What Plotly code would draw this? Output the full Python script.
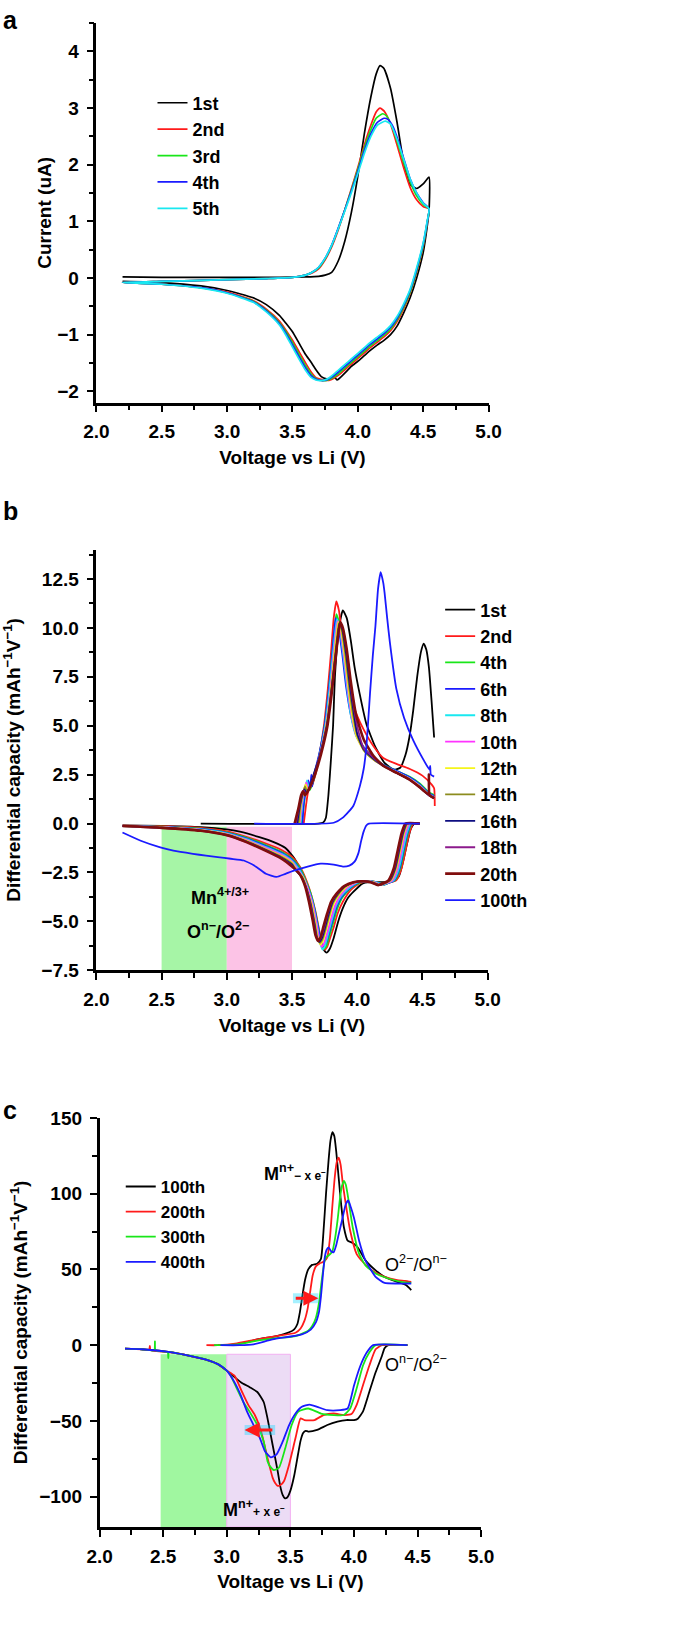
import plotly.graph_objects as go

W, H = 685, 1638
FONT = "Liberation Sans Narrow, Arial Narrow, Liberation Sans, Arial, sans-serif"

# ===================== DATA =====================
# ---- panel a : cyclic voltammetry (V, uA) ----
a_names = ["1st", "2nd", "3rd", "4th", "5th"]
a_colors = ["#000000", "#ff1a1a", "#19e619", "#1a1aff", "#19e8f0"]

a1_v = [2.20, 2.50, 3.00, 3.40, 3.60, 3.70, 3.75, 3.80, 3.85, 3.90, 3.95, 4.00, 4.05, 4.10, 4.14, 4.17, 4.20, 4.25, 4.30, 4.35, 4.40, 4.45, 4.50, 4.545,
        4.545, 4.53, 4.50, 4.45, 4.40, 4.35, 4.30, 4.25, 4.20, 4.15, 4.10, 4.05, 4.00, 3.95, 3.90, 3.86, 3.84, 3.825, 3.80, 3.76, 3.72, 3.68, 3.64, 3.60, 3.55, 3.50, 3.45, 3.40, 3.30, 3.20, 3.00, 2.80, 2.50, 2.20]
a1_i = [0.02, 0.01, 0.01, 0.01, 0.02, 0.03, 0.05, 0.10, 0.30, 0.65, 1.15, 1.80, 2.55, 3.20, 3.60, 3.75, 3.70, 3.35, 2.75, 2.05, 1.65, 1.58, 1.66, 1.78,
        1.20, 0.90, 0.45, 0.00, -0.35, -0.62, -0.85, -1.00, -1.10, -1.18, -1.27, -1.37, -1.47, -1.56, -1.68, -1.77, -1.80, -1.76, -1.77, -1.78, -1.74, -1.62, -1.48, -1.35, -1.15, -0.95, -0.80, -0.66, -0.47, -0.35, -0.22, -0.14, -0.08, -0.06]

a2_v = [2.20, 2.50, 3.00, 3.30, 3.50, 3.60, 3.65, 3.70, 3.75, 3.80, 3.85, 3.90, 3.95, 4.00, 4.05, 4.10, 4.14, 4.17, 4.20, 4.25, 4.30, 4.35, 4.40, 4.45, 4.50, 4.545,
        4.53, 4.50, 4.45, 4.40, 4.35, 4.30, 4.25, 4.20, 4.15, 4.10, 4.05, 4.00, 3.95, 3.90, 3.85, 3.80, 3.76, 3.72, 3.68, 3.64, 3.60, 3.55, 3.50, 3.45, 3.40, 3.30, 3.20, 3.00, 2.80, 2.50, 2.20]
a2_i = [-0.08, -0.06, -0.03, -0.01, 0.01, 0.05, 0.09, 0.16, 0.32, 0.55, 0.85, 1.20, 1.57, 1.95, 2.35, 2.70, 2.93, 3.00, 2.95, 2.72, 2.35, 1.95, 1.60, 1.38, 1.26, 1.22,
        0.97, 0.55, 0.10, -0.27, -0.55, -0.77, -0.93, -1.04, -1.13, -1.22, -1.32, -1.42, -1.52, -1.62, -1.72, -1.79, -1.81, -1.79, -1.76, -1.65, -1.50, -1.30, -1.10, -0.92, -0.76, -0.55, -0.40, -0.25, -0.17, -0.11, -0.08]

a3_v = [2.20, 2.50, 3.00, 3.30, 3.50, 3.60, 3.65, 3.70, 3.75, 3.80, 3.85, 3.90, 3.95, 4.00, 4.05, 4.10, 4.14, 4.19, 4.22, 4.26, 4.30, 4.35, 4.40, 4.45, 4.50, 4.545,
        4.53, 4.50, 4.45, 4.40, 4.35, 4.30, 4.25, 4.20, 4.15, 4.10, 4.05, 4.00, 3.95, 3.90, 3.85, 3.80, 3.76, 3.72, 3.68, 3.64, 3.60, 3.55, 3.50, 3.45, 3.40, 3.30, 3.20, 3.00, 2.80, 2.50, 2.20]
a3_i = [-0.08, -0.06, -0.03, -0.01, 0.01, 0.05, 0.10, 0.18, 0.34, 0.57, 0.87, 1.20, 1.55, 1.92, 2.30, 2.62, 2.82, 2.90, 2.86, 2.68, 2.42, 2.05, 1.70, 1.45, 1.30, 1.22,
        0.97, 0.57, 0.12, -0.25, -0.52, -0.74, -0.90, -1.01, -1.10, -1.19, -1.29, -1.39, -1.49, -1.59, -1.69, -1.77, -1.81, -1.81, -1.78, -1.69, -1.55, -1.35, -1.14, -0.95, -0.79, -0.57, -0.41, -0.26, -0.17, -0.11, -0.08]

a4_v = [2.20, 2.50, 3.00, 3.30, 3.50, 3.60, 3.65, 3.70, 3.75, 3.80, 3.85, 3.90, 3.95, 4.00, 4.05, 4.10, 4.15, 4.20, 4.23, 4.27, 4.31, 4.35, 4.40, 4.45, 4.50, 4.545,
        4.53, 4.50, 4.45, 4.40, 4.35, 4.30, 4.25, 4.20, 4.15, 4.10, 4.05, 4.00, 3.95, 3.90, 3.85, 3.80, 3.76, 3.72, 3.68, 3.64, 3.60, 3.55, 3.50, 3.45, 3.40, 3.30, 3.20, 3.00, 2.80, 2.50, 2.20]
a4_i = [-0.08, -0.06, -0.03, -0.01, 0.01, 0.05, 0.10, 0.19, 0.35, 0.58, 0.88, 1.20, 1.53, 1.88, 2.25, 2.55, 2.75, 2.82, 2.80, 2.67, 2.42, 2.12, 1.75, 1.50, 1.33, 1.22,
        0.98, 0.60, 0.15, -0.22, -0.49, -0.71, -0.87, -0.98, -1.07, -1.16, -1.26, -1.36, -1.46, -1.56, -1.66, -1.75, -1.80, -1.81, -1.79, -1.72, -1.59, -1.39, -1.18, -0.98, -0.81, -0.58, -0.42, -0.26, -0.17, -0.11, -0.08]

a5_v = [2.20, 2.50, 3.00, 3.30, 3.50, 3.60, 3.65, 3.70, 3.75, 3.80, 3.85, 3.90, 3.95, 4.00, 4.05, 4.10, 4.15, 4.21, 4.25, 4.30, 4.35, 4.40, 4.45, 4.50, 4.545,
        4.53, 4.50, 4.45, 4.40, 4.35, 4.30, 4.25, 4.20, 4.15, 4.10, 4.05, 4.00, 3.95, 3.90, 3.85, 3.80, 3.76, 3.72, 3.68, 3.64, 3.60, 3.55, 3.50, 3.45, 3.40, 3.30, 3.20, 3.00, 2.80, 2.50, 2.20]
a5_i = [-0.08, -0.06, -0.03, -0.01, 0.01, 0.05, 0.10, 0.19, 0.35, 0.58, 0.87, 1.18, 1.50, 1.84, 2.20, 2.50, 2.70, 2.77, 2.72, 2.45, 2.10, 1.75, 1.50, 1.32, 1.22,
        1.00, 0.62, 0.18, -0.20, -0.46, -0.68, -0.84, -0.95, -1.04, -1.13, -1.23, -1.33, -1.43, -1.53, -1.63, -1.73, -1.79, -1.81, -1.80, -1.75, -1.63, -1.43, -1.22, -1.01, -0.83, -0.60, -0.43, -0.27, -0.18, -0.11, -0.08]

# ---- panel b : differential capacity, cycles 1-100 ----
b_names = ["1st", "2nd", "4th", "6th", "8th", "10th", "12th", "14th", "16th", "18th", "20th", "100th"]
b_colors = ["#000000", "#ff1a1a", "#19e619", "#1a1aff", "#19e8f0", "#ff33ff", "#f5f51a", "#8c8c1e",
            "#0d0d80", "#8c1a8c", "#800d0d", "#1a1aff"]

b01_cv = [2.80, 3.70, 3.74, 3.76, 3.78, 3.80, 3.815, 3.83, 3.86, 3.89, 3.92, 3.95, 3.98, 4.02, 4.07, 4.14, 4.21, 4.28, 4.33, 4.37, 4.40, 4.43, 4.46, 4.49, 4.51, 4.53, 4.55, 4.57, 4.59]
b01_cy = [0, 0, 0.05, 0.3, 1.5, 3.4, 5.0, 7.6, 10.0, 10.9, 10.5, 9.4, 8.0, 6.6, 5.1, 3.9, 3.1, 2.75, 2.85, 3.5, 4.4, 5.8, 7.5, 8.8, 9.2, 8.9, 8.0, 6.3, 4.4]
b01_dv = [4.48, 4.44, 4.41, 4.38, 4.35, 4.32, 4.28, 4.20, 4.10, 4.04, 3.97, 3.93, 3.89, 3.855, 3.82, 3.79, 3.765, 3.74, 3.71, 3.68, 3.65, 3.61, 3.57, 3.52, 3.45, 3.36, 3.25, 3.10, 3.00, 2.80, 2.50, 2.20]
b01_dy = [0, 0, -0.3, -1.1, -2.0, -2.7, -2.95, -3.0, -3.0, -3.07, -3.5, -3.8, -4.33, -5.0, -5.85, -6.4, -6.6, -6.4, -5.85, -5.0, -4.2, -3.3, -2.5, -1.8, -1.25, -0.95, -0.7, -0.42, -0.3, -0.18, -0.12, -0.1]

b02_cv = [3.59, 3.605, 3.62, 3.635, 3.65, 3.68, 3.71, 3.745, 3.775, 3.80, 3.82, 3.84, 3.86, 3.89, 3.92, 3.96, 4.00, 4.05, 4.12, 4.20, 4.30, 4.40, 4.50, 4.57, 4.59, 4.595]
b02_cy = [0, 0.8, 1.5, 1.9, 1.9, 2.5, 3.5, 5.0, 6.9, 8.8, 10.5, 11.35, 10.9, 9.2, 7.6, 6.3, 5.5, 4.8, 4.0, 3.35, 3.05, 2.8, 2.45, 2.0, 1.8, 0.9]
b02_dv = [4.48, 4.43, 4.40, 4.37, 4.34, 4.30, 4.26, 4.21, 4.15, 4.09, 4.02, 3.95, 3.89, 3.85, 3.82, 3.79, 3.77, 3.75, 3.73, 3.71, 3.68,
          3.65, 3.61, 3.56, 3.50, 3.42, 3.30, 3.15, 3.00, 2.80, 2.50, 2.20]
b02_dy = [0, 0, -0.5, -1.4, -2.3, -2.9, -3.0, -3.1, -3.0, -2.95, -3.05, -3.4, -4.0, -4.6, -5.3, -5.9, -6.3, -6.45, -6.2, -5.5, -4.5,
          -3.7, -2.9, -2.2, -1.7, -1.35, -1.02, -0.68, -0.4, -0.22, -0.14, -0.11]

b04_cv = [3.575, 3.59, 3.605, 3.62, 3.635, 3.655, 3.68, 3.715, 3.75, 3.78, 3.805, 3.825, 3.84, 3.86, 3.89, 3.92, 3.95, 3.99, 4.05, 4.12, 4.20, 4.30, 4.40, 4.48, 4.55, 4.59]
b04_cy = [0, 0.9, 1.7, 2.0, 1.7, 2.0, 2.6, 3.7, 5.0, 6.7, 8.4, 9.8, 10.7, 10.3, 8.9, 7.1, 5.7, 4.6, 3.9, 3.4, 3.0, 2.7, 2.4, 2.05, 1.6, 1.45]
b04_dv = [4.48, 4.42, 4.39, 4.36, 4.33, 4.29, 4.25, 4.21, 4.15, 4.09, 4.02, 3.95, 3.885, 3.845, 3.815, 3.785, 3.765, 3.745, 3.725, 3.705, 3.675,
          3.645, 3.605, 3.56, 3.50, 3.42, 3.30, 3.15, 3.00, 2.80, 2.50, 2.20]
b04_dy = [0, 0, -0.5, -1.4, -2.3, -2.9, -3.0, -3.12, -3.0, -2.95, -3.02, -3.3, -3.8, -4.4, -5.1, -5.8, -6.25, -6.4, -6.1, -5.4, -4.4,
          -3.6, -2.9, -2.25, -1.8, -1.45, -1.1, -0.72, -0.45, -0.26, -0.16, -0.12]

b06_cv = [3.58, 3.59, 3.61, 3.625, 3.64, 3.648, 3.655, 3.67, 3.71, 3.75, 3.78, 3.805, 3.82, 3.835, 3.855, 3.885, 3.915, 3.95, 3.99, 4.05, 4.12, 4.20, 4.30, 4.40, 4.48, 4.55, 4.59]
b06_cy = [0, 1.0, 1.8, 2.2, 1.8, 2.5, 1.9, 2.5, 3.6, 5.0, 6.7, 8.4, 9.6, 10.5, 10.1, 8.7, 7.0, 5.6, 4.6, 3.9, 3.4, 3.0, 2.7, 2.38, 2.0, 1.55, 1.4]
b06_dv = [4.48, 4.415, 4.385, 4.355, 4.325, 4.285, 4.245, 4.205, 4.145, 4.085, 4.015, 3.945, 3.88, 3.84, 3.81, 3.78, 3.76, 3.74, 3.72, 3.70, 3.67,
          3.64, 3.60, 3.555, 3.50, 3.42, 3.30, 3.15, 3.00, 2.80, 2.50, 2.20]
b06_dy = [0, 0, -0.5, -1.4, -2.3, -2.9, -3.02, -3.12, -3.0, -2.95, -3.0, -3.3, -3.75, -4.3, -5.0, -5.7, -6.15, -6.3, -6.0, -5.3, -4.3,
          -3.6, -2.9, -2.3, -1.85, -1.5, -1.15, -0.76, -0.48, -0.28, -0.17, -0.12]

b08_cv = [3.565, 3.58, 3.60, 3.615, 3.63, 3.65, 3.675, 3.715, 3.755, 3.785, 3.81, 3.83, 3.845, 3.865, 3.895, 3.925, 3.955, 3.99, 4.05, 4.12, 4.20, 4.30, 4.40, 4.48, 4.55, 4.59]
b08_cy = [0, 1.0, 1.8, 2.2, 1.75, 2.0, 2.5, 3.6, 5.0, 6.7, 8.4, 9.7, 10.45, 10.0, 8.5, 6.8, 5.4, 4.5, 3.85, 3.35, 2.95, 2.65, 2.32, 1.95, 1.5, 1.35]
b08_dv = [4.48, 4.41, 4.38, 4.35, 4.32, 4.28, 4.24, 4.20, 4.14, 4.08, 4.01, 3.94, 3.875, 3.835, 3.805, 3.775, 3.755, 3.735, 3.715, 3.695, 3.665,
          3.635, 3.595, 3.55, 3.50, 3.42, 3.30, 3.15, 3.00, 2.80, 2.50, 2.20]
b08_dy = [0, 0, -0.5, -1.4, -2.3, -2.9, -3.02, -3.12, -3.0, -2.95, -3.0, -3.28, -3.72, -4.25, -4.95, -5.7, -6.2, -6.45, -6.1, -5.3, -4.25,
          -3.55, -2.85, -2.3, -1.9, -1.55, -1.2, -0.8, -0.5, -0.3, -0.18, -0.12]

b10_cv = [3.56, 3.575, 3.595, 3.61, 3.625, 3.645, 3.67, 3.715, 3.76, 3.79, 3.815, 3.835, 3.85, 3.87, 3.90, 3.93, 3.96, 3.995, 4.05, 4.12, 4.20, 4.30, 4.40, 4.48, 4.55, 4.59]
b10_cy = [0, 1.0, 1.75, 2.1, 1.7, 1.95, 2.45, 3.55, 5.0, 6.6, 8.3, 9.6, 10.35, 9.95, 8.5, 6.8, 5.4, 4.45, 3.8, 3.3, 2.95, 2.63, 2.3, 1.92, 1.48, 1.32]
b10_dv = [4.48, 4.40, 4.37, 4.34, 4.31, 4.27, 4.23, 4.19, 4.13, 4.07, 4.00, 3.93, 3.87, 3.83, 3.80, 3.77, 3.75, 3.73, 3.71, 3.69, 3.66,
          3.63, 3.59, 3.545, 3.50, 3.42, 3.30, 3.15, 3.00, 2.80, 2.50, 2.20]
b10_dy = [0, 0, -0.5, -1.4, -2.3, -2.9, -3.03, -3.13, -3.0, -2.95, -3.0, -3.25, -3.68, -4.2, -4.85, -5.6, -6.05, -6.3, -6.0, -5.2, -4.2,
          -3.5, -2.8, -2.35, -1.95, -1.6, -1.25, -0.83, -0.53, -0.32, -0.19, -0.12]

b12_cv = [3.555, 3.57, 3.59, 3.605, 3.62, 3.64, 3.665, 3.715, 3.762, 3.792, 3.818, 3.84, 3.855, 3.875, 3.905, 3.935, 3.965, 3.995, 4.05, 4.12, 4.20, 4.30, 4.40, 4.48, 4.55, 4.59]
b12_cy = [0, 1.0, 1.7, 2.0, 1.65, 1.9, 2.4, 3.5, 5.0, 6.5, 8.2, 9.6, 10.3, 9.95, 8.5, 6.8, 5.4, 4.45, 3.75, 3.3, 2.95, 2.62, 2.28, 1.9, 1.47, 1.3]
b12_dv = [4.48, 4.39, 4.36, 4.33, 4.30, 4.26, 4.22, 4.18, 4.12, 4.06, 3.99, 3.92, 3.86, 3.82, 3.79, 3.76, 3.74, 3.72, 3.70, 3.68, 3.65,
          3.62, 3.585, 3.54, 3.50, 3.42, 3.30, 3.15, 3.00, 2.80, 2.50, 2.20]
b12_dy = [0, 0, -0.5, -1.4, -2.3, -2.9, -3.04, -3.14, -3.0, -2.95, -3.0, -3.22, -3.65, -4.1, -4.75, -5.5, -5.95, -6.2, -5.9, -5.1, -4.1,
          -3.45, -2.75, -2.4, -2.0, -1.65, -1.3, -0.87, -0.55, -0.34, -0.2, -0.13]

b14_cv = [3.55, 3.565, 3.585, 3.60, 3.615, 3.635, 3.66, 3.71, 3.765, 3.795, 3.822, 3.845, 3.86, 3.88, 3.91, 3.94, 3.97, 4.00, 4.05, 4.12, 4.20, 4.30, 4.40, 4.48, 4.55, 4.59]
b14_cy = [0, 0.9, 1.55, 1.9, 1.6, 1.85, 2.35, 3.4, 5.0, 6.5, 8.1, 9.5, 10.25, 9.95, 8.6, 6.9, 5.5, 4.5, 3.75, 3.3, 2.95, 2.6, 2.25, 1.88, 1.46, 1.3]
b14_dv = [4.48, 4.385, 4.355, 4.325, 4.295, 4.255, 4.215, 4.175, 4.115, 4.055, 3.985, 3.915, 3.855, 3.815, 3.785, 3.755, 3.735, 3.715, 3.695, 3.675, 3.645,
          3.615, 3.58, 3.535, 3.50, 3.42, 3.30, 3.15, 3.00, 2.80, 2.50, 2.20]
b14_dy = [0, 0, -0.5, -1.4, -2.3, -2.9, -3.04, -3.14, -3.0, -2.95, -3.0, -3.2, -3.62, -4.05, -4.7, -5.45, -5.9, -6.1, -5.85, -5.1, -4.1,
          -3.4, -2.75, -2.42, -2.05, -1.7, -1.33, -0.9, -0.57, -0.35, -0.21, -0.13]

b16_cv = [3.54, 3.56, 3.58, 3.595, 3.61, 3.63, 3.655, 3.705, 3.767, 3.797, 3.825, 3.85, 3.865, 3.885, 3.915, 3.945, 3.975, 4.00, 4.05, 4.12, 4.20, 4.30, 4.40, 4.48, 4.55, 4.59]
b16_cy = [0, 0.9, 1.5, 1.75, 1.55, 1.8, 2.3, 3.3, 5.0, 6.5, 8.1, 9.5, 10.25, 9.95, 8.7, 7.0, 5.6, 4.6, 3.8, 3.35, 2.95, 2.6, 2.25, 1.85, 1.45, 1.3]
b16_dv = [4.48, 4.38, 4.35, 4.32, 4.29, 4.25, 4.21, 4.17, 4.11, 4.05, 3.98, 3.91, 3.85, 3.81, 3.78, 3.75, 3.73, 3.71, 3.69, 3.67, 3.64,
          3.61, 3.57, 3.53, 3.50, 3.42, 3.30, 3.15, 3.00, 2.80, 2.50, 2.20]
b16_dy = [0, 0, -0.5, -1.4, -2.3, -2.9, -3.05, -3.15, -3.0, -2.95, -3.0, -3.2, -3.6, -4.02, -4.65, -5.4, -5.85, -6.05, -5.8, -5.05, -4.05,
          -3.3, -2.7, -2.4, -2.1, -1.75, -1.36, -0.92, -0.58, -0.36, -0.21, -0.13]

b18_cv = [3.53, 3.555, 3.575, 3.59, 3.605, 3.63, 3.66, 3.70, 3.77, 3.80, 3.83, 3.855, 3.87, 3.89, 3.92, 3.95, 3.98, 4.01, 4.05, 4.12, 4.20, 4.30, 4.40, 4.48, 4.55, 4.59]
b18_cy = [0, 0.9, 1.5, 1.7, 1.5, 1.75, 2.25, 3.1, 5.0, 6.5, 8.2, 9.6, 10.25, 9.95, 8.8, 7.1, 5.7, 4.7, 3.85, 3.4, 2.95, 2.6, 2.25, 1.85, 1.45, 1.3]
b18_dv = [4.48, 4.375, 4.345, 4.315, 4.285, 4.245, 4.205, 4.165, 4.105, 4.045, 3.975, 3.905, 3.845, 3.805, 3.775, 3.745, 3.725, 3.705, 3.685, 3.665, 3.635,
          3.605, 3.565, 3.505, 3.42, 3.30, 3.15, 3.00, 2.80, 2.50, 2.20]
b18_dy = [0, 0, -0.5, -1.4, -2.3, -2.9, -3.05, -3.15, -3.0, -2.95, -3.0, -3.2, -3.6, -4.0, -4.6, -5.35, -5.8, -6.0, -5.75, -5.0, -4.0,
          -3.25, -2.65, -2.2, -1.78, -1.38, -0.94, -0.6, -0.37, -0.22, -0.13]

b20_cv = [3.52, 3.55, 3.57, 3.585, 3.60, 3.63, 3.66, 3.70, 3.74, 3.772, 3.80, 3.83, 3.85, 3.87, 3.89, 3.92, 3.95, 3.99, 4.05, 4.12, 4.20, 4.30, 4.40, 4.48, 4.545, 4.55, 4.555, 4.59]
b20_cy = [0, 0.8, 1.45, 1.65, 1.45, 1.75, 2.2, 3.0, 4.0, 5.0, 6.4, 8.2, 9.4, 10.3, 10.0, 8.9, 7.3, 5.6, 4.3, 3.5, 2.95, 2.6, 2.25, 1.85, 1.5, 2.5, 1.45, 1.3]
b20_dv = [4.48, 4.37, 4.34, 4.31, 4.28, 4.24, 4.20, 4.16, 4.10, 4.04, 3.97, 3.90, 3.84, 3.80, 3.77, 3.74, 3.72, 3.70, 3.68, 3.66, 3.63,
          3.60, 3.56, 3.50, 3.42, 3.30, 3.15, 3.00, 2.80, 2.50, 2.20]
b20_dy = [0, 0, -0.5, -1.4, -2.3, -2.9, -3.05, -3.15, -3.0, -2.95, -3.0, -3.2, -3.6, -4.0, -4.6, -5.3, -5.8, -6.0, -5.7, -5.0, -4.0,
          -3.2, -2.6, -2.2, -1.8, -1.4, -0.95, -0.6, -0.37, -0.22, -0.13]

b100_cv = [3.21, 3.82, 3.89, 3.97, 4.02, 4.05, 4.07, 4.10, 4.12, 4.14, 4.16, 4.18, 4.20, 4.21, 4.23, 4.25, 4.30, 4.36, 4.43, 4.51, 4.555, 4.56, 4.565, 4.59]
b100_cy = [0, 0.04, 0.3, 0.9, 1.9, 2.8, 3.9, 6.8, 8.6, 10.1, 12.0, 12.85, 12.3, 11.8, 10.5, 9.3, 6.9, 5.4, 4.25, 3.24, 2.75, 2.95, 2.5, 2.4]
b100_dv = [4.48, 4.09, 4.07, 4.05, 4.03, 4.01, 3.98, 3.94, 3.89, 3.82, 3.72, 3.62, 3.52, 3.45, 3.38, 3.30, 3.23, 3.13, 3.03, 2.93, 2.84, 2.74, 2.59, 2.49, 2.34, 2.20]
b100_dy = [0, 0, -0.1, -0.4, -0.9, -1.5, -1.95, -2.15, -2.2, -2.1, -2.05, -2.2, -2.4, -2.57, -2.73, -2.57, -2.23, -1.89, -1.8, -1.72, -1.64, -1.55, -1.39, -1.22, -0.88, -0.46]

# ---- panel c : differential capacity, cycles 100-400 ----
c_names = ["100th", "200th", "300th", "400th"]
c_colors = ["#000000", "#ff1a1a", "#19e619", "#1a1aff"]

c100_cv = [2.93, 3.08, 3.24, 3.39, 3.49, 3.53, 3.555, 3.575, 3.595, 3.615, 3.64, 3.67, 3.71, 3.74, 3.76, 3.78, 3.80, 3.815, 3.83, 3.845, 3.86, 3.88, 3.90, 3.92, 3.95, 3.99, 4.03, 4.09, 4.17, 4.24, 4.34, 4.41, 4.45]
c100_cy = [0, 0.6, 3.8, 6.0, 8.5, 10.5, 14, 22, 33, 43, 50, 53, 53.8, 57, 75, 100, 122, 135, 140.6, 138, 128, 110, 92, 78, 69, 67.5, 64.5, 56, 49.4, 45.1, 41.8, 39.6, 36.4]
c100_dv = [4.42, 4.27, 4.24, 4.22, 4.17, 4.12, 4.07, 4.03, 4.00, 3.94, 3.87, 3.79, 3.71, 3.64, 3.62, 3.60, 3.58, 3.56, 3.53, 3.50, 3.475, 3.455, 3.44, 3.42, 3.40, 3.36, 3.32, 3.29, 3.24, 3.18, 3.11, 3.00, 2.93, 2.83, 2.58, 2.33, 2.20]
c100_dy = [0, 0, -2, -7, -17.9, -30.9, -43.9, -48.5, -49.4, -49.4, -50.5, -52.7, -55.9, -57, -56.5, -58, -63, -72, -86, -96, -100.5, -101, -99, -93, -83.1, -65.7, -48.3, -37.5, -30.9, -27.7, -24.4, -16.8, -12.5, -9.3, -4.9, -2.7, -2.3]

c200_cv = [2.84, 2.93, 3.08, 3.24, 3.39, 3.54, 3.58, 3.61, 3.635, 3.655, 3.675, 3.70, 3.73, 3.76, 3.79, 3.81, 3.83, 3.85, 3.865, 3.88, 3.895, 3.91, 3.93, 3.97, 4.02, 4.07, 4.14, 4.24, 4.34, 4.40, 4.45]
c200_cy = [0, 0, 1.2, 3.8, 6.0, 8.2, 11, 16, 24, 35, 46, 52, 54, 55, 58, 70, 92, 112, 121, 123.7, 119, 108, 96, 75.5, 60.3, 54.9, 49.4, 45.1, 42.9, 42.5, 41.8]
c200_dv = [4.42, 4.22, 4.17, 4.12, 4.07, 4.02, 3.98, 3.92, 3.84, 3.76, 3.69, 3.61, 3.58, 3.54, 3.49, 3.45, 3.42, 3.40, 3.38, 3.36, 3.32, 3.27, 3.22, 3.17, 3.12, 3.06, 3.00, 2.93, 2.83, 2.58, 2.40, 2.395, 2.39, 2.33, 2.20]
c200_dy = [0, 0, -2.7, -13.6, -26.6, -39.6, -45.5, -46.1, -45.1, -46.1, -49.4, -49.4, -48.3, -61.3, -78.7, -89.6, -92.5, -92.8, -91, -87.4, -74.4, -57, -46.1, -39.6, -30.9, -20.1, -16.8, -12.5, -9.3, -4.9, -3.2, -0.5, -3.1, -2.7, -2.3]

c300_cv = [2.90, 3.08, 3.24, 3.39, 3.54, 3.64, 3.67, 3.70, 3.725, 3.745, 3.765, 3.78, 3.80, 3.83, 3.85, 3.87, 3.89, 3.905, 3.92, 3.935, 3.95, 3.99, 4.04, 4.09, 4.17, 4.27, 4.37, 4.45]
c300_cy = [0, 0.6, 3.0, 4.6, 6.0, 9.5, 12.5, 18, 28, 42, 54, 58.1, 59.2, 62, 70, 82, 97, 105, 108.5, 106, 99.4, 77.7, 60.3, 52.7, 47.3, 44, 41.8, 41.1]
c300_dv = [4.42, 4.17, 4.12, 4.07, 4.02, 3.97, 3.92, 3.84, 3.74, 3.64, 3.56, 3.51, 3.46, 3.41, 3.37, 3.34, 3.32, 3.29, 3.24, 3.18, 3.13, 3.08, 3.03, 3.00, 2.93, 2.83, 2.58, 2.545, 2.54, 2.535, 2.44, 2.435, 2.43, 2.33, 2.20]
c300_dy = [0, 0, -4.9, -13.6, -28.8, -41.8, -46.1, -46.1, -45.1, -41.8, -44, -52.7, -67.9, -80.9, -82.4, -80, -76.5, -63.5, -52.7, -44, -37.5, -28.8, -20.1, -16.8, -12.5, -9.3, -4.9, -4.6, -8.5, -4.5, -3.5, 2.5, -3.4, -2.7, -2.3]

c400_cv = [2.95, 3.10, 3.21, 3.36, 3.59, 3.66, 3.70, 3.725, 3.74, 3.755, 3.77, 3.785, 3.80, 3.82, 3.84, 3.86, 3.88, 3.91, 3.935, 3.955, 3.975, 4.00, 4.04, 4.09, 4.17, 4.24, 4.34, 4.45]
c400_cy = [0, 0, 0.6, 3.8, 7.1, 10.3, 15, 22, 32, 46, 58, 63, 64.6, 62, 61.4, 66, 73.3, 84, 93, 95.5, 91, 84, 69, 55.9, 45.1, 41.1, 40.7, 40.7]
c400_dv = [4.42, 4.15, 4.10, 4.05, 4.00, 3.95, 3.89, 3.79, 3.71, 3.65, 3.59, 3.54, 3.49, 3.44, 3.39, 3.345, 3.30, 3.26, 3.21, 3.16, 3.11, 3.06, 3.00, 2.93, 2.83, 2.58, 2.33, 2.20]
c400_dy = [0, 0, -4.9, -13.6, -26.6, -41.8, -42.9, -42.9, -40.7, -39.2, -40.7, -45.1, -52.7, -63.5, -72.2, -74, -70, -61.3, -52.7, -44, -33.1, -24.4, -16.8, -12.5, -9.3, -4.9, -2.7, -2.3]

# ===================== FIGURE =====================
fig = go.Figure()


def add_trace(xa, ya, legend, name, color, xs, ys, width):
    assert len(xs) == len(ys), (name, len(xs), len(ys))
    fig.add_trace(go.Scatter(
        x=xs, y=ys, mode="lines", name=name, legend=legend,
        xaxis=xa, yaxis=ya, hoverinfo="skip", connectgaps=False,
        line=dict(color=color, width=width, shape="spline", smoothing=0.5)))


def branch(cv, cy, dv, dy):
    assert len(cv) == len(cy) and len(dv) == len(dy)
    return list(cv) + [None] + list(dv), list(cy) + [None] + list(dy)


# panel a
for nm, col, xs, ys in zip(a_names, a_colors, [a1_v, a2_v, a3_v, a4_v, a5_v], [a1_i, a2_i, a3_i, a4_i, a5_i]):
    add_trace("x", "y", "legend", nm, col, xs, ys, 1.7)

# panel b
b_data = [(b01_cv, b01_cy, b01_dv, b01_dy), (b02_cv, b02_cy, b02_dv, b02_dy), (b04_cv, b04_cy, b04_dv, b04_dy),
          (b06_cv, b06_cy, b06_dv, b06_dy), (b08_cv, b08_cy, b08_dv, b08_dy), (b10_cv, b10_cy, b10_dv, b10_dy),
          (b12_cv, b12_cy, b12_dv, b12_dy), (b14_cv, b14_cy, b14_dv, b14_dy), (b16_cv, b16_cy, b16_dv, b16_dy),
          (b18_cv, b18_cy, b18_dv, b18_dy), (b20_cv, b20_cy, b20_dv, b20_dy), (b100_cv, b100_cy, b100_dv, b100_dy)]
for nm, col, d in zip(b_names, b_colors, b_data):
    xs, ys = branch(*d)
    add_trace("x2", "y2", "legend2", nm, col, xs, ys, 2.6 if nm == "20th" else 1.8)

# panel c
c_data = [(c100_cv, c100_cy, c100_dv, c100_dy), (c200_cv, c200_cy, c200_dv, c200_dy),
          (c300_cv, c300_cy, c300_dv, c300_dy), (c400_cv, c400_cy, c400_dv, c400_dy)]
for nm, col, d in zip(c_names, c_colors, c_data):
    xs, ys = branch(*d)
    add_trace("x3", "y3", "legend3", nm, col, xs, ys, 1.8)

# ---------- layout helpers (pixel geometry) ----------
def fx(p):
    return p / W


def fy(p):
    return 1 - p / H


TICKFONT = dict(family=FONT, size=19, color="black", weight="bold")
TITLEFONT = dict(family=FONT, size=19, color="black", weight="bold")


def xaxis_cfg(left, right, anchor, standoff):
    return dict(domain=[fx(left), fx(right)], anchor=anchor, range=[2.0, 5.0],
                tickmode="array", tickvals=[2.0, 2.5, 3.0, 3.5, 4.0, 4.5, 5.0], tickformat=".1f",
                showline=True, linecolor="black", linewidth=2.5, ticks="outside", ticklen=7,
                tickwidth=2, tickcolor="black", showgrid=False, zeroline=False, tickfont=TICKFONT,
                ticklabelstandoff=3,
                minor=dict(ticks="outside", ticklen=5, tickwidth=2, tickcolor="black", dtick=0.25, tick0=2.0, showgrid=False),
                title=dict(text="Voltage vs Li (V)", font=TITLEFONT, standoff=standoff))


def yaxis_cfg(top, bottom, anchor, rng, dtick, mdtick, fmt, title, standoff):
    return dict(domain=[fy(bottom), fy(top)], anchor=anchor, range=rng, dtick=dtick, tick0=0,
                tickformat=fmt, showline=True, linecolor="black", linewidth=2.5, ticks="outside",
                ticklen=7, tickwidth=2, tickcolor="black", showgrid=False, zeroline=False,
                tickfont=TICKFONT, ticklabelstandoff=4,
                minor=dict(ticks="outside", ticklen=5, tickwidth=2, tickcolor="black", dtick=mdtick, tick0=0, showgrid=False),
                title=dict(text=title, font=TITLEFONT, standoff=standoff))


YT_B = "Differential capacity (mAh<sup>−1</sup>V<sup>−1</sup>)"

LEGFONT = dict(family=FONT, size=18, color="black", weight="bold")

fig.update_layout(
    width=W, height=H, margin=dict(l=0, r=0, t=0, b=0),
    paper_bgcolor="white", plot_bgcolor="white", hovermode=False,
    font=dict(family=FONT, color="black"),
    xaxis=xaxis_cfg(86.7, 494.3, "y", 10),
    yaxis=yaxis_cfg(13.3, 397.7, "x", [-2.2, 4.5], 1, 0.5, "d", "Current (uA)", 1),
    xaxis2=xaxis_cfg(86.7, 493.3, "y2", 10),
    yaxis2=yaxis_cfg(546.7, 972.7, "x2", [-7.5, 14.0], 2.5, 1.25, ".1f", YT_B, 18),
    xaxis3=xaxis_cfg(90.0, 486.7, "y3", 10),
    yaxis3=yaxis_cfg(1122.3, 1536.7, "x3", [-120, 150], 50, 25, "d", YT_B, 7),
    legend=dict(x=fx(145), y=fy(75.5), xanchor="left", yanchor="top", font=LEGFONT,
                bgcolor="rgba(0,0,0,0)", borderwidth=0, itemclick=False, itemdoubleclick=False),
    legend2=dict(x=fx(444), y=fy(589), xanchor="left", yanchor="top", font=LEGFONT,
                 bgcolor="rgba(0,0,0,0)", borderwidth=0, itemclick=False, itemdoubleclick=False),
    legend3=dict(x=fx(112), y=fy(1174), xanchor="left", yanchor="top",
                 font=dict(family=FONT, size=17, color="black", weight="bold"),
                 bgcolor="rgba(0,0,0,0)", borderwidth=0, itemclick=False, itemdoubleclick=False),
)

# ---------- shaded potential windows ----------
shapes = [
    dict(type="rect", xref="x2", yref="y2", x0=2.5, x1=3.0, y0=-7.5, y1=-0.17, fillcolor="#a6f5a6", line=dict(width=0), layer="below"),
    dict(type="rect", xref="x2", yref="y2", x0=3.0, x1=3.5, y0=-7.5, y1=-0.17, fillcolor="#fcc3e6", line=dict(width=0), layer="below"),
    dict(type="rect", xref="x3", yref="y3", x0=2.48, x1=3.0, y0=-120, y1=-6, fillcolor="#a0f7a0", line=dict(width=0), layer="below"),
    dict(type="rect", xref="x3", yref="y3", x0=3.0, x1=3.5, y0=-120, y1=-6, fillcolor="#ecdcf5", line=dict(width=1, color="#f2b0f2"), layer="below"),
    # glow behind arrows
    dict(type="line", xref="x3", yref="y3", x0=3.52, x1=3.72, y0=31, y1=31, line=dict(width=10, color="rgba(0,215,255,0.35)")),
    dict(type="line", xref="x3", yref="y3", x0=3.38, x1=3.14, y0=-56, y1=-56, line=dict(width=10, color="rgba(0,215,255,0.35)")),
]
fig.update_layout(shapes=shapes)

BOLD18 = dict(family=FONT, size=18, color="black", weight="bold")
LABELFONT = dict(family=FONT, size=25, color="black", weight="bold")
ann = [
    dict(text="a", x=0, y=1, xref="paper", yref="paper", xanchor="left", yanchor="top", xshift=-12, yshift=6,
         showarrow=False, font=LABELFONT),
    dict(text="b", x=0, y=fy(507), xref="paper", yref="paper", xanchor="left", yanchor="middle", xshift=-12,
         showarrow=False, font=LABELFONT),
    dict(text="c", x=0, y=fy(1114), xref="paper", yref="paper", xanchor="left", yanchor="middle", xshift=-12,
         showarrow=False, font=LABELFONT),
    dict(text="Mn<sup>4+/3+</sup>", x=2.95, y=-3.75, xref="x2", yref="y2", showarrow=False, font=BOLD18),
    dict(text="O<sup>n−</sup>/O<sup>2−</sup>", x=2.93, y=-5.45, xref="x2", yref="y2", showarrow=False, font=BOLD18),
    dict(text="M<sup>n+</sup><span style='font-size:12px'>− x e<sup>−</sup></span>", x=3.54, y=114, xref="x3", yref="y3", showarrow=False,
         font=dict(family=FONT, size=18, color="black", weight="bold")),
    dict(text="M<sup>n+</sup><span style='font-size:12px'>+ x e<sup>−</sup></span>", x=3.21, y=-108, xref="x3", yref="y3", showarrow=False,
         font=dict(family=FONT, size=18, color="black", weight="bold")),
    dict(text="O<sup>2−</sup>/O<sup>n−</sup>", x=4.49, y=54, xref="x3", yref="y3", showarrow=False,
         font=dict(family=FONT, size=18, color="black")),
    dict(text="O<sup>n−</sup>/O<sup>2−</sup>", x=4.49, y=-12, xref="x3", yref="y3", showarrow=False,
         font=dict(family=FONT, size=18, color="black")),
    dict(text="", x=3.72, y=31, ax=3.53, ay=31, xref="x3", yref="y3", axref="x3", ayref="y3",
         showarrow=True, arrowhead=2, arrowsize=1, arrowwidth=3, arrowcolor="#ff1a1a"),
    dict(text="", x=3.14, y=-56, ax=3.37, ay=-56, xref="x3", yref="y3", axref="x3", ayref="y3",
         showarrow=True, arrowhead=2, arrowsize=1, arrowwidth=3, arrowcolor="#ff1a1a"),
]
fig.update_layout(annotations=ann)

fig.write_html("out.html", config={"displayModeBar": False},
               post_script="document.body.style.margin='0';")
